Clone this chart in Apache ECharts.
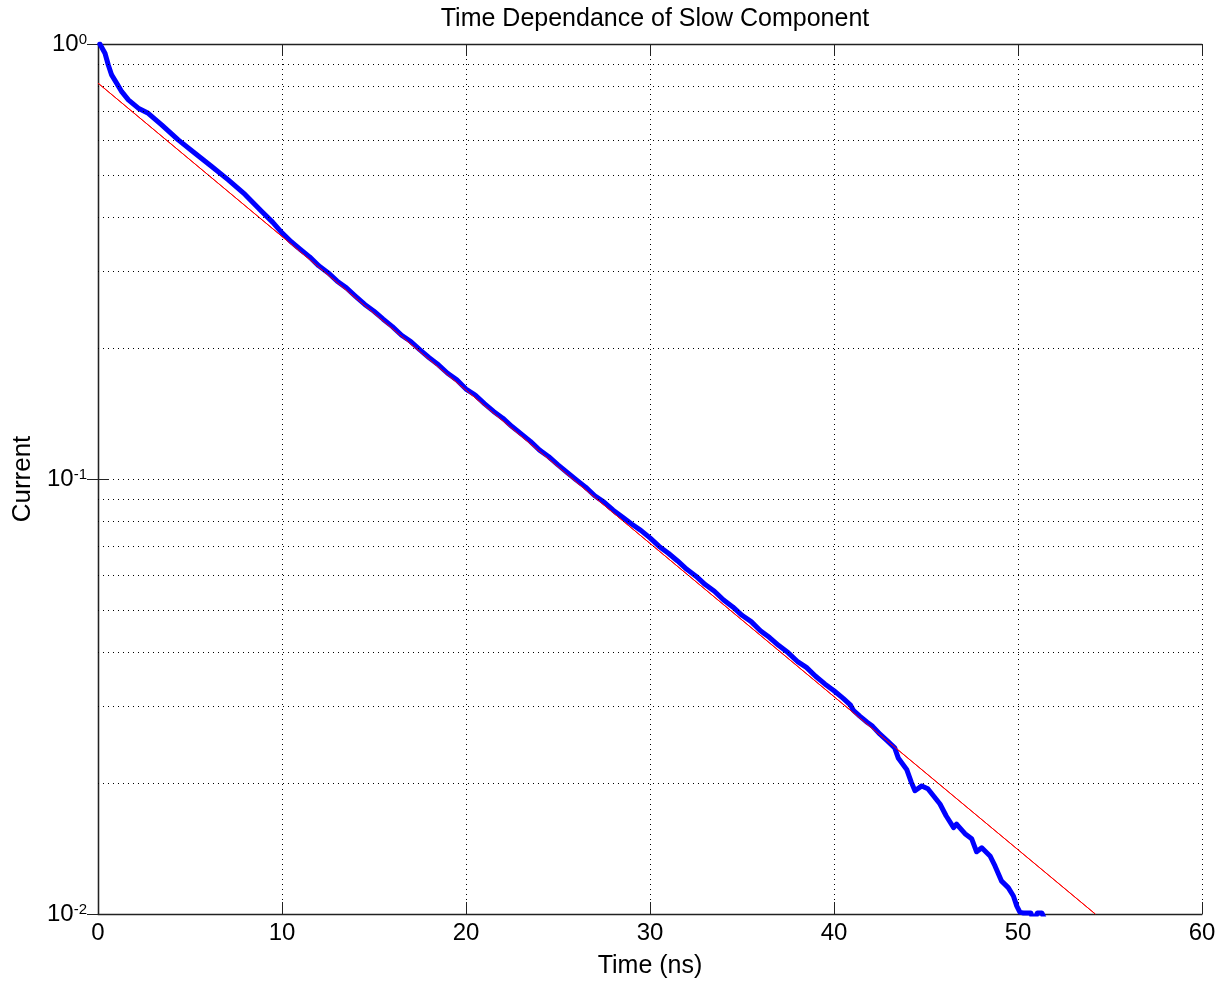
<!DOCTYPE html>
<html>
<head>
<meta charset="utf-8">
<script src="https://cdn.jsdelivr.net/npm/echarts@6/dist/echarts.min.js"></script>
<style>
  html, body { margin: 0; padding: 0; background: #fff; }
  #chart { width: 1220px; height: 984px; }
</style>
</head>
<body>
<div id="chart"></div>
<script>
  // measured current (blue)
  const blueTime = [
    0.1, 0.2, 0.38, 0.56, 0.74, 1.02, 1.29, 1.65, 2.19, 2.73, 3.46, 4.36, 5.27, 6.18, 7.08, 7.99, 8.9, 9.5,
    10.0, 10.5, 11.0, 11.5, 12.0, 12.5, 13.0, 13.5, 14.0, 14.5, 15.0, 15.5, 16.0, 16.5, 17.0, 17.5,
    18.0, 18.5, 19.0, 19.5, 20.0, 20.5, 21.0, 21.5, 22.0, 22.5, 23.0, 23.5, 24.0, 24.5, 25.0, 25.5,
    26.0, 26.5, 27.0, 27.5, 28.0, 28.5, 29.0, 29.5, 30.0, 30.5, 31.0, 31.5, 32.0, 32.5, 33.0, 33.5,
    34.0, 34.5, 35.0, 35.5, 36.0, 36.5, 37.0, 37.5, 38.0, 38.5, 39.0, 39.5, 40.0, 40.5, 40.9, 41.05,
    41.4, 41.8, 42.1, 42.5, 42.9, 43.3, 43.5, 43.95, 44.2, 44.4, 44.77, 45.1, 45.76, 46.1, 46.5, 46.66,
    47.12, 47.48, 47.75, 48.03, 48.48, 48.75, 49.11, 49.47, 49.75, 49.93, 50.1, 50.3, 50.7, 50.85,
    51.05, 51.3, 51.5
  ]
  const blueCurrent = [
    1.0, 0.995, 0.952, 0.895, 0.849, 0.812, 0.777, 0.744, 0.712, 0.693, 0.652, 0.602, 0.561, 0.523, 0.487, 0.451, 0.412, 0.389,
    0.368, 0.351, 0.337, 0.324, 0.309, 0.298, 0.285, 0.275, 0.263, 0.252, 0.243, 0.233, 0.224, 0.214, 0.207, 0.198,
    0.190, 0.183, 0.175, 0.169, 0.161, 0.156, 0.149, 0.143, 0.138, 0.132, 0.127, 0.122, 0.1165, 0.1125, 0.1078, 0.1035,
    0.0995, 0.0958, 0.0915, 0.0885, 0.0848, 0.0818, 0.0788, 0.0762, 0.0732, 0.0700, 0.0675, 0.0648, 0.0620, 0.0598, 0.0572, 0.0552,
    0.0527, 0.0508, 0.0486, 0.0470, 0.0448, 0.0432, 0.0414, 0.0399, 0.0381, 0.0369, 0.0352, 0.0338, 0.0326, 0.0313, 0.0302, 0.0294,
    0.0285, 0.0276, 0.0270, 0.0259, 0.0250, 0.0241, 0.0228, 0.0215, 0.0201, 0.0192, 0.0197, 0.0194, 0.0179, 0.0168, 0.0158, 0.0161,
    0.0153, 0.0149, 0.0139, 0.0142, 0.0136, 0.0129, 0.0119, 0.0115, 0.0110, 0.01044, 0.0101, 0.01005, 0.01005, 0.0096,
    0.01005, 0.01005, 0.0096
  ]
  // exponential fit (red)
  const fitTime = [0, 10, 20, 30, 40, 54.2]
  const fitCurrent = [0.813, 0.361, 0.160, 0.0711, 0.0316, 0.0100]
  // dotted grid lines of the log axis (2..9 of each decade)
  const yGridValues = [0.02, 0.03, 0.04, 0.05, 0.06, 0.07, 0.08, 0.09, 0.2, 0.3, 0.4, 0.5, 0.6, 0.7, 0.8, 0.9]
  const xTicks = [0, 10, 20, 30, 40, 50, 60]

  const font = "'Liberation Sans', Arial, sans-serif"
  const dotted = { type: [1, 4], color: '#000', width: 1 }
  const supers = { 1: '0', 0.1: '-1', 0.01: '-2' }

  const chart = echarts.init(document.getElementById('chart'))
  const option = {
    animation: false,
    backgroundColor: '#fff',
    textStyle: { fontFamily: font },
    title: {
      text: 'Time Dependance of Slow Component',
      left: 650,
      top: 2,
      textAlign: 'center',
      textStyle: { fontFamily: font, fontSize: 25, fontWeight: 'normal', color: '#000' },
    },
    grid: { left: 98, right: 18, top: 44, bottom: 69 },
    xAxis: [
      {
        type: 'value',
        min: xTicks[0],
        max: xTicks[xTicks.length - 1],
        interval: 10,
        name: 'Time (ns)',
        nameLocation: 'middle',
        nameGap: 40,
        nameTextStyle: { fontFamily: font, fontSize: 25, color: '#000' },
        axisLine: { lineStyle: { color: '#222', width: 1.3 } },
        axisTick: { inside: true, length: 12, lineStyle: { color: '#222' } },
        axisLabel: { fontFamily: font, fontSize: 24, color: '#000', margin: 7 },
        splitLine: { show: true, lineStyle: dotted },
      },
      {
        type: 'value',
        position: 'top',
        min: xTicks[0],
        max: xTicks[xTicks.length - 1],
        interval: 10,
        axisLine: { lineStyle: { color: '#222', width: 1.3 } },
        axisTick: { inside: true, length: 12, lineStyle: { color: '#222' } },
        axisLabel: { show: false },
        splitLine: { show: false },
      },
    ],
    yAxis: [
      {
        type: 'log',
        logBase: 10,
        min: 0.01,
        max: 1,
        name: 'Current',
        nameLocation: 'middle',
        nameGap: 61,
        nameRotate: 90,
        nameTextStyle: { fontFamily: font, fontSize: 26, color: '#000' },
        axisLine: { show: true, lineStyle: { color: '#222', width: 1.3 } },
        axisTick: { inside: true, length: 11, lineStyle: { color: '#222' } },
        axisLabel: {
          margin: 11,
          formatter: function (v) {
            return '{b|10}{s|' + (supers[v] || '') + '}'
          },
          rich: {
            b: { fontFamily: font, fontSize: 24, color: '#000', lineHeight: 24, padding: [10, 0, 10, 0] },
            s: { fontFamily: font, fontSize: 15, color: '#000', lineHeight: 15, verticalAlign: 'top' },
          },
        },
        splitLine: { show: true, lineStyle: dotted },
      },
      {
        type: 'log',
        logBase: 10,
        min: 0.01,
        max: 1,
        position: 'right',
        axisLine: { show: true, lineStyle: { color: '#222', width: 1.3 } },
        axisTick: { inside: true, length: 11, lineStyle: { color: '#222' } },
        axisLabel: { show: false },
        splitLine: { show: false },
      },
    ],
    series: [
      {
        name: 'fit',
        type: 'line',
        xAxisIndex: 0,
        yAxisIndex: 0,
        showSymbol: false,
        clip: true,
        lineStyle: { color: '#ff0000', width: 1 },
        data: fitTime.map((t, i) => [t, fitCurrent[i]]),
        markLine: {
          silent: true,
          symbol: 'none',
          label: { show: false },
          lineStyle: dotted,
          emphasis: { disabled: true },
          data: yGridValues.map(v => ({ yAxis: v })),
        },
        z: 1,
      },
      {
        name: 'current',
        type: 'line',
        xAxisIndex: 0,
        yAxisIndex: 0,
        showSymbol: false,
        clip: true,
        lineStyle: { color: '#0000ff', width: 5, join: 'round', cap: 'round' },
        data: blueTime.map((t, i) => [t, blueCurrent[i]]),
        z: 2,
      },
      {
        name: 'fit-top',
        type: 'line',
        xAxisIndex: 0,
        yAxisIndex: 0,
        showSymbol: false,
        clip: true,
        lineStyle: { color: '#ff0000', width: 1 },
        data: fitTime.map((t, i) => [t, fitCurrent[i]]),
        z: 3,
      },
    ],
  }
  chart.setOption(option)
</script>
</body>
</html>
